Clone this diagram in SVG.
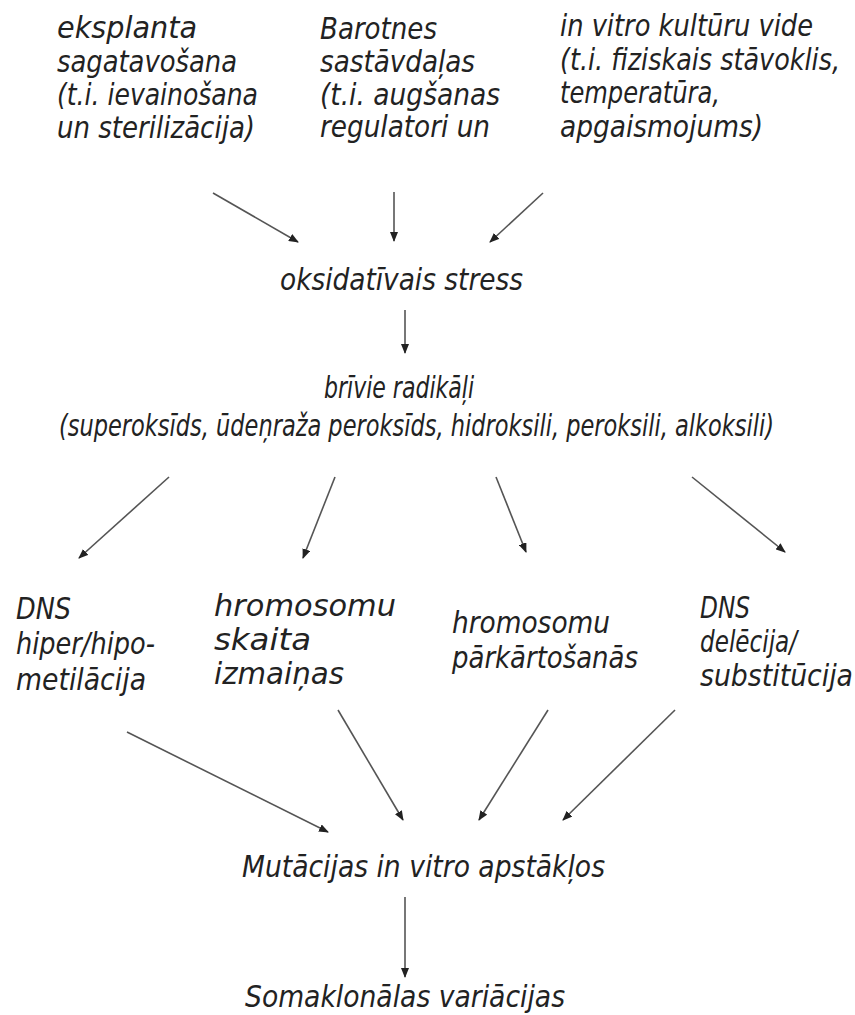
<svg xmlns="http://www.w3.org/2000/svg" width="855" height="1015" viewBox="0 0 855 1015">
  <style>
    text { fill: #222; font-style: oblique; font-size: 30px; }
    .c { font-family: "DejaVu Sans Condensed", "DejaVu Sans", sans-serif; font-stretch: condensed; }
    .w { font-family: "DejaVu Sans", sans-serif; font-size: 27px; }
    .w2 { font-family: "DejaVu Sans", sans-serif; font-size: 29px; }
    .arr line { stroke: #555; stroke-width: 1.6; marker-end: url(#ah); }
  </style>
  <defs>
    <marker id="ah" markerWidth="10" markerHeight="8" refX="9" refY="4" orient="auto" markerUnits="userSpaceOnUse">
      <path d="M0,0 L10,4 L0,8 z" fill="#222"/>
    </marker>
  </defs>
  <rect width="855" height="1015" fill="#fff"/>

  <g id="n-eksplanta" class="c">
    <text x="57" y="38" textLength="140" lengthAdjust="spacingAndGlyphs">eksplanta</text>
    <text x="57" y="72" textLength="180" lengthAdjust="spacingAndGlyphs">sagatavošana</text>
    <text x="57" y="105" textLength="201" lengthAdjust="spacingAndGlyphs">(t.i. ievainošana</text>
    <text x="57" y="138" textLength="198" lengthAdjust="spacingAndGlyphs">un sterilizācija)</text>
  </g>
  <g id="n-barotnes" class="c">
    <text x="320" y="39" textLength="117" lengthAdjust="spacingAndGlyphs">Barotnes</text>
    <text x="320" y="72" textLength="155" lengthAdjust="spacingAndGlyphs">sastāvdaļas</text>
    <text x="320" y="105" textLength="180" lengthAdjust="spacingAndGlyphs">(t.i. augšanas</text>
    <text x="320" y="137" textLength="170" lengthAdjust="spacingAndGlyphs">regulatori un</text>
  </g>
  <g id="n-vide" class="c">
    <text x="560" y="36" textLength="253" lengthAdjust="spacingAndGlyphs">in vitro kultūru vide</text>
    <text x="560" y="70" textLength="280" lengthAdjust="spacingAndGlyphs">(t.i. fiziskais stāvoklis,</text>
    <text x="560" y="103" textLength="160" lengthAdjust="spacingAndGlyphs">temperatūra,</text>
    <text x="560" y="137" textLength="203" lengthAdjust="spacingAndGlyphs">apgaismojums)</text>
  </g>
  <g id="n-stress" class="w">
    <text x="280" y="290" textLength="243" lengthAdjust="spacingAndGlyphs">oksidatīvais stress</text>
  </g>
  <g id="n-radikali" class="c">
    <text x="324" y="398" textLength="150" lengthAdjust="spacingAndGlyphs">brīvie radikāļi</text>
    <text x="59" y="436" textLength="715" lengthAdjust="spacingAndGlyphs">(superoksīds, ūdeņraža peroksīds, hidroksili, peroksili, alkoksili)</text>
  </g>
  <g id="n-metilacija" class="c">
    <text x="16" y="619" textLength="55" lengthAdjust="spacingAndGlyphs">DNS</text>
    <text x="16" y="654" textLength="139" lengthAdjust="spacingAndGlyphs">hiper/hipo-</text>
    <text x="16" y="690" textLength="130" lengthAdjust="spacingAndGlyphs">metilācija</text>
  </g>
  <g id="n-skaita" class="w2">
    <text x="214" y="616" textLength="182" lengthAdjust="spacingAndGlyphs">hromosomu</text>
    <text x="214" y="650" textLength="97" lengthAdjust="spacingAndGlyphs">skaita</text>
    <text x="214" y="684" textLength="130" lengthAdjust="spacingAndGlyphs">izmaiņas</text>
  </g>
  <g id="n-parkartosanas" class="c">
    <text x="452" y="633" textLength="158" lengthAdjust="spacingAndGlyphs">hromosomu</text>
    <text x="452" y="668" textLength="186" lengthAdjust="spacingAndGlyphs">pārkārtošanās</text>
  </g>
  <g id="n-delecija" class="c">
    <text x="700" y="618" textLength="50" lengthAdjust="spacingAndGlyphs">DNS</text>
    <text x="700" y="652" textLength="97" lengthAdjust="spacingAndGlyphs">delēcija/</text>
    <text x="700" y="686" textLength="153" lengthAdjust="spacingAndGlyphs">substitūcija</text>
  </g>
  <g id="n-mutacijas" class="w">
    <text x="242" y="877" textLength="363" lengthAdjust="spacingAndGlyphs">Mutācijas in vitro apstākļos</text>
  </g>
  <g id="n-somaklonalas" class="w">
    <text x="245" y="1007" textLength="320" lengthAdjust="spacingAndGlyphs">Somaklonālas variācijas</text>
  </g>

  <g id="connectors" class="arr">
    <line x1="213" y1="193" x2="298" y2="242"/>
    <line x1="394" y1="192" x2="394" y2="241"/>
    <line x1="543" y1="193" x2="490" y2="242"/>
    <line x1="405" y1="310" x2="405" y2="353"/>
    <line x1="169" y1="477" x2="79" y2="558"/>
    <line x1="335" y1="477" x2="303" y2="558"/>
    <line x1="496" y1="477" x2="526" y2="552"/>
    <line x1="692" y1="477" x2="785" y2="552"/>
    <line x1="127" y1="732" x2="328" y2="832"/>
    <line x1="338" y1="710" x2="403" y2="820"/>
    <line x1="548" y1="710" x2="479" y2="820"/>
    <line x1="675" y1="710" x2="563" y2="820"/>
    <line x1="405" y1="897" x2="405" y2="977"/>
  </g>
</svg>
